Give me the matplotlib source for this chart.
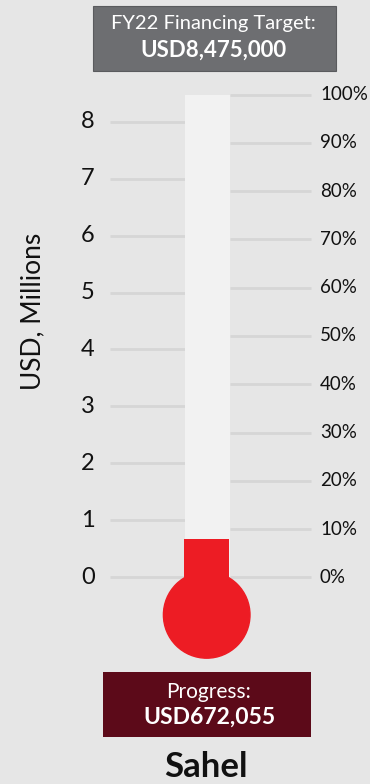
import matplotlib
matplotlib.use("Agg")
import matplotlib.pyplot as plt
from matplotlib.patches import Rectangle, Ellipse

plt.rcParams['font.family'] = ['Lato', 'DejaVu Sans']

# data
region = "Sahel"
target = 8.475      # USD millions
progress = 0.672055 # USD millions
left_ticks = [0, 1, 2, 3, 4, 5, 6, 7, 8]
pct_ticks = [0, 10, 20, 30, 40, 50, 60, 70, 80, 90, 100]
target_label = "USD8,475,000"
progress_label = "USD672,055"

W, H = 370, 784
bg = '#e6e6e6'
grid_c = '#d6d6d6'

fig = plt.figure(figsize=(W / 100, H / 100), dpi=100, facecolor=bg)

# pixels per million and position of zero line (from bottom)
ppu = 56.95
y0 = H - 577.3
ymin, ymax = -1.6, 8.6
ax = fig.add_axes([0, (y0 + ymin * ppu) / H, 1, (ymax - ymin) * ppu / H])
ax.set_xlim(0, W)
ax.set_ylim(ymin, ymax)
ax.axis('off')
ax.set_facecolor(bg)

# grid lines and tick labels
for t in left_ticks:
    ax.plot([110, 185], [t, t], color=grid_c, lw=2, solid_capstyle='butt', zorder=1)
    ax.text(88, t, str(t), ha='center', va='center', fontsize=17, color='#111111')
for p in pct_ticks:
    yv = target * p / 100
    ax.plot([230, 311], [yv, yv], color=grid_c, lw=2, solid_capstyle='butt', zorder=1)
    ax.text(320, yv, f"{p}%", ha='left', va='center', fontsize=13.5, color='#111111')

# thermometer tube
ax.bar(207.5, target, width=45, bottom=0, color='#f2f2f2', zorder=2)
bulb_y = -0.66
ax.bar(206.7, progress - bulb_y, width=45.5, bottom=bulb_y, color='#ed1c24', zorder=3)
ax.add_patch(Ellipse((206.7, bulb_y), 86.6, 86.6 / ppu, color='#ed1c24', zorder=3))

ax.text(33, 4.67, "USD, Millions", rotation=90, ha='center', va='center',
        fontsize=19, color='#111111')


def fx(x):
    return x / W


def fy(y_top):
    return 1 - y_top / H


# target box
fig.patches.append(Rectangle((fx(93), fy(70.5)), fx(336) - fx(93), (70.5 - 6) / H,
                             transform=fig.transFigure, facecolor='#6d6e71',
                             edgecolor='#5a5b5e', lw=0.8))
fig.text(fx(213), fy(24), "FY22 Financing Target:", ha='center', va='center',
         fontsize=14.5, color='white')
fig.text(fx(213), fy(50), target_label, ha='center', va='center',
         fontsize=16, color='white', fontweight='bold')

# progress box
fig.patches.append(Rectangle((fx(103), fy(737)), fx(311) - fx(103), (737 - 672) / H,
                             transform=fig.transFigure, facecolor='#5c0a19'))
fig.text(fx(208), fy(692), "Progress:", ha='center', va='center',
         fontsize=15, color='white')
fig.text(fx(209), fy(717), progress_label, ha='center', va='center',
         fontsize=16.5, color='white', fontweight='bold')

fig.text(fx(206), fy(767), region, ha='center', va='center',
         fontsize=25, color='#111111', fontweight='bold')

fig.savefig('out.png', dpi=100, facecolor=bg)
